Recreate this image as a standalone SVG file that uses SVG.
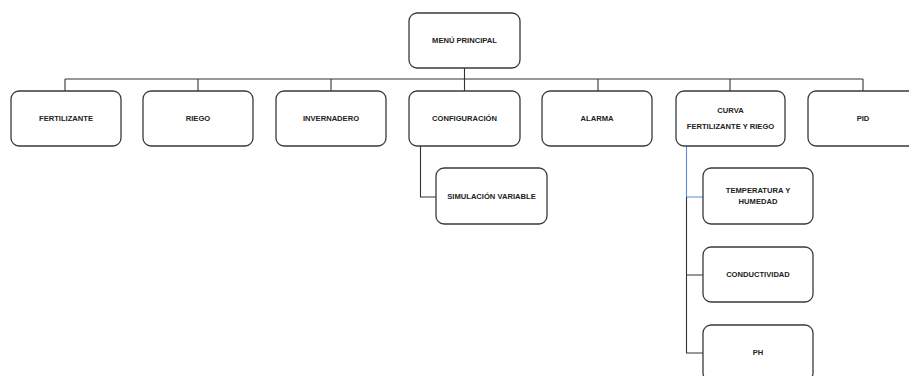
<svg xmlns="http://www.w3.org/2000/svg" width="909" height="376" viewBox="0 0 909 376">
<style>
.box{fill:#fff;stroke:#3a3a3a;stroke-width:1.3}
.t{font-family:"Liberation Sans",Arial,sans-serif;font-weight:bold;font-size:7.6px;fill:#222;text-anchor:middle}
.c{fill:none;stroke:#333;stroke-width:1.1}
.b{fill:none;stroke:#5b8ad6;stroke-width:1.1}
</style>
<rect width="909" height="376" fill="#fff"/>
<g id="connectors">
<path class="c" d="M464.5 68V91M65 79H863M65 79V91M198 79V91M331 79V91M598 79V91M730 79V91M863 79V91"/>
<path class="c" d="M420.5 146V197H436"/>
<path class="b" d="M686.5 146V197H703"/>
<path class="c" d="M686.5 197V353H703M686.5 275H703"/>
</g>
<g id="menu"><rect class="box" x="409" y="13" width="111" height="55" rx="8"/><text class="t" x="464.5" y="43">MENÚ PRINCIPAL</text></g>
<g id="fertilizante"><rect class="box" x="11" y="91" width="110" height="55" rx="8"/><text class="t" x="66" y="121">FERTILIZANTE</text></g>
<g id="riego"><rect class="box" x="143" y="91" width="110" height="55" rx="8"/><text class="t" x="198" y="121">RIEGO</text></g>
<g id="invernadero"><rect class="box" x="276" y="91" width="110" height="55" rx="8"/><text class="t" x="331" y="121">INVERNADERO</text></g>
<g id="configuracion"><rect class="box" x="409" y="91" width="111" height="55" rx="8"/><text class="t" x="464.5" y="121">CONFIGURACIÓN</text></g>
<g id="alarma"><rect class="box" x="542" y="91" width="110" height="55" rx="8"/><text class="t" x="597" y="121">ALARMA</text></g>
<g id="curva"><rect class="box" x="676" y="91" width="109" height="55" rx="8"/><text class="t" x="730.5" y="113">CURVA</text><text class="t" x="730.5" y="129">FERTILIZANTE Y RIEGO</text></g>
<g id="pid"><rect class="box" x="808" y="91" width="110" height="55" rx="8"/><text class="t" x="863" y="121">PID</text></g>
<g id="simulacion"><rect class="box" x="436" y="168" width="111" height="56" rx="8"/><text class="t" x="491.5" y="199">SIMULACIÓN VARIABLE</text></g>
<g id="temperatura"><rect class="box" x="703" y="168" width="110" height="56" rx="8"/><text class="t" x="758" y="193">TEMPERATURA Y</text><text class="t" x="758" y="204">HUMEDAD</text></g>
<g id="conductividad"><rect class="box" x="703" y="247" width="110" height="55" rx="8"/><text class="t" x="758" y="277">CONDUCTIVIDAD</text></g>
<g id="ph"><rect class="box" x="703" y="325" width="110" height="56" rx="8"/><text class="t" x="758" y="355">PH</text></g>
</svg>
